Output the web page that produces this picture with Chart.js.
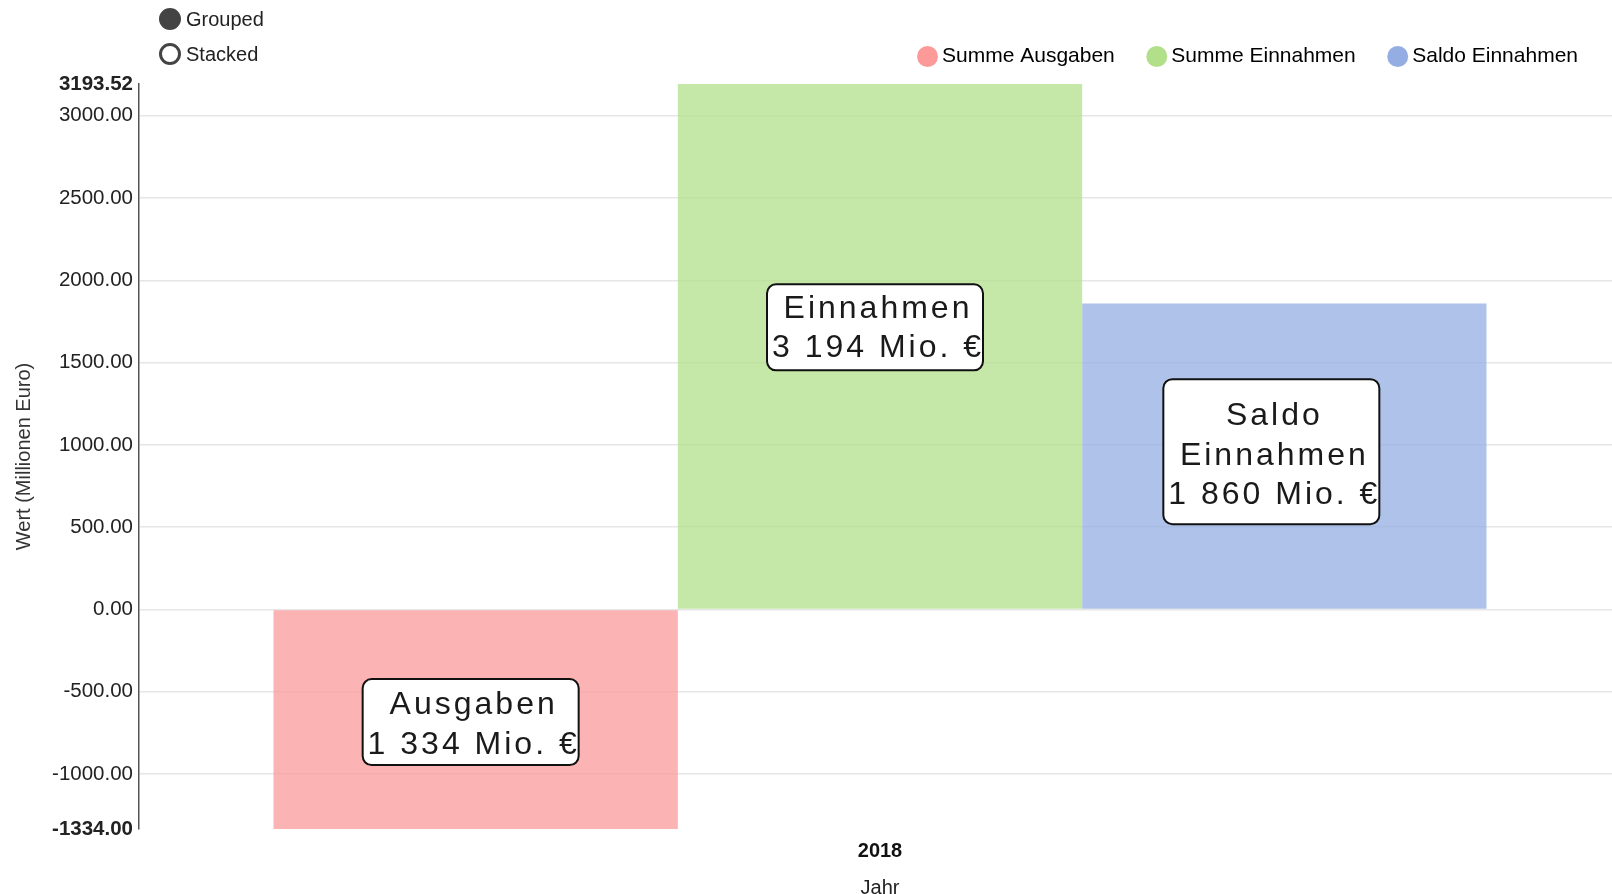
<!DOCTYPE html>
<html>
<head>
<meta charset="utf-8">
<script src="https://cdn.jsdelivr.net/npm/chart.js@4/dist/chart.umd.min.js"></script>
<style>
  html, body { margin: 0; padding: 0; background: #fff; overflow: hidden; }
  #wrap { position: relative; width: 1612px; height: 894px; overflow: hidden; }
  #chart { display: block; }
  .ctl { position: absolute; left: 159px; height: 22px; display: flex; align-items: center;
         font: 20px "Liberation Sans", Arial, sans-serif; color: #222; }
  .ctl .dot { width: 16px; height: 16px; border: 3px solid #444; border-radius: 50%; margin-right: 5px; }
  .ctl .dot.on { background: #444; }
</style>
</head>
<body>
<div id="wrap">
  <canvas id="chart" width="1621" height="894"></canvas>
  <div class="ctl" style="top:8px"><span class="dot on"></span>Grouped</div>
  <div class="ctl" style="top:43px"><span class="dot"></span>Stacked</div>
</div>
<script>
// data
const categories = ["2018"];
const seriesNames = ["Summe Ausgaben", "Summe Einnahmen", "Saldo Einnahmen"];
const ausgaben = [-1334];
const einnahmen = [3193.52];
const saldo = [1859.52];
const yMin = -1334;
const yMax = 3193.52;
const yStep = 500;
const noteLines = [
  ["Ausgaben", "1 334 Mio. €"],
  ["Einnahmen", "3 194 Mio. €"],
  ["Saldo", "Einnahmen", "1 860 Mio. €"]
];

const colors = ["#fb9a99", "#b2df8a", "#94ade2"];
const fills = ["rgba(251,154,153,0.75)", "rgba(178,223,138,0.75)", "rgba(148,173,226,0.75)"];
const FONT = "'Liberation Sans', Arial, sans-serif";

// label boxes on the bars (dx/dy: text centre vs bar middle, by: box shift)
const noteOffsets = [{dx: -5, dy: 5.5, by: -3}, {dx: -5, dy: -17.5, by: -1.5}, {dx: -13, dy: 0, by: -4.5}];
const notesPlugin = {
  id: "notes",
  afterDatasetsDraw(chart) {
    const ctx = chart.ctx;
    noteLines.forEach((lines, i) => {
      const bar = chart.getDatasetMeta(i).data[0];
      if (!bar) return;
      const o = noteOffsets[i];
      const cx = bar.x + o.dx;
      const cy = (bar.y + bar.base) / 2 + o.dy;
      const lh = 39.5;
      const h = lines.length * 40 + 6 + (lines.length > 2 ? 19 : 0);
      const w = 216;
      ctx.save();
      ctx.beginPath();
      ctx.roundRect(cx - w / 2, cy - h / 2 + o.by, w, h, 9);
      ctx.fillStyle = "#fff";
      ctx.fill();
      ctx.lineWidth = 2;
      ctx.strokeStyle = "#111";
      ctx.stroke();
      ctx.fillStyle = "#1a1a1a";
      ctx.font = "32px " + FONT;
      ctx.letterSpacing = "3px";
      ctx.textAlign = "center";
      ctx.textBaseline = "middle";
      lines.forEach((t, k) => {
        ctx.fillText(t, cx + 3, cy + (k - (lines.length - 1) / 2) * lh);
      });
      ctx.restore();
    });
  }
};

// legend sits higher than the plot, keep a gap below it and pull it a bit left
const legendFit = {
  id: "legendFit",
  beforeInit(chart) {
    const fit = chart.legend.fit;
    chart.legend.fit = function () {
      fit.bind(chart.legend)();
      this.height += 7;
      if (this.lineWidths) this.lineWidths[0] += 5;
    };
  }
};

const datasets = [ausgaben, einnahmen, saldo].map((d, i) => ({
  label: seriesNames[i],
  data: d,
  backgroundColor: fills[i],
  borderWidth: 0,
  categoryPercentage: 0.8185,
  barPercentage: 1
}));

new Chart(document.getElementById("chart"), {
  type: "bar",
  data: { labels: categories, datasets },
  options: {
    responsive: false,
    animation: false,
    devicePixelRatio: 1,
    layout: { padding: { top: 8, left: 0, right: 0, bottom: 0 } },
    plugins: {
      tooltip: { enabled: false },
      legend: {
        position: "top",
        align: "end",
        labels: {
          usePointStyle: true,
          pointStyle: "circle",
          boxWidth: 8,
          boxHeight: 14.8,
          padding: 38,
          color: "#222",
          font: { family: FONT, size: 21 },
          generateLabels: () => seriesNames.map((n, i) => ({
            text: n, fillStyle: colors[i], strokeStyle: colors[i], lineWidth: 0,
            pointStyle: "circle", datasetIndex: i, hidden: false
          }))
        }
      }
    },
    scales: {
      x: {
        grid: { display: false },
        border: { display: false },
        ticks: { color: "#111", padding: 2, font: { family: FONT, size: 20, weight: "bold" } },
        title: { display: true, text: "Jahr", color: "#222", padding: 0,
                 font: { family: FONT, size: 20, lineHeight: 0.55 } },
        afterFit(scale) { scale.height = 65; }
      },
      y: {
        min: yMin,
        max: yMax,
        afterBuildTicks(scale) {
          const t = [{ value: yMin }];
          for (let v = Math.ceil(yMin / yStep) * yStep; v < yMax; v += yStep) {
            if (v > yMin) t.push({ value: v });
          }
          t.push({ value: yMax });
          scale.ticks = t;
        },
        afterFit(scale) { scale.width = 139; },
        grid: {
          drawTicks: false,
          lineWidth: 1.5,
          color: (c) => (c.tick && (c.tick.value === yMin || c.tick.value === yMax)) ? "rgba(0,0,0,0)" : "#e6e6e6"
        },
        border: { display: true, color: "#555", width: 1.5 },
        ticks: {
          padding: 6,
          color: "#222",
          autoSkip: false,
          callback: (v) => Number(v).toFixed(2),
          font: (c) => ({
            family: FONT, size: 20.5,
            weight: (c.tick && (c.tick.value === yMin || c.tick.value === yMax)) ? "bold" : "normal"
          })
        },
        title: { display: true, text: "Wert (Millionen Euro)", color: "#333", padding: { top: 12, bottom: 0 },
                 font: { family: FONT, size: 20 } }
      }
    }
  },
  plugins: [notesPlugin, legendFit]
});
</script>
</body>
</html>
